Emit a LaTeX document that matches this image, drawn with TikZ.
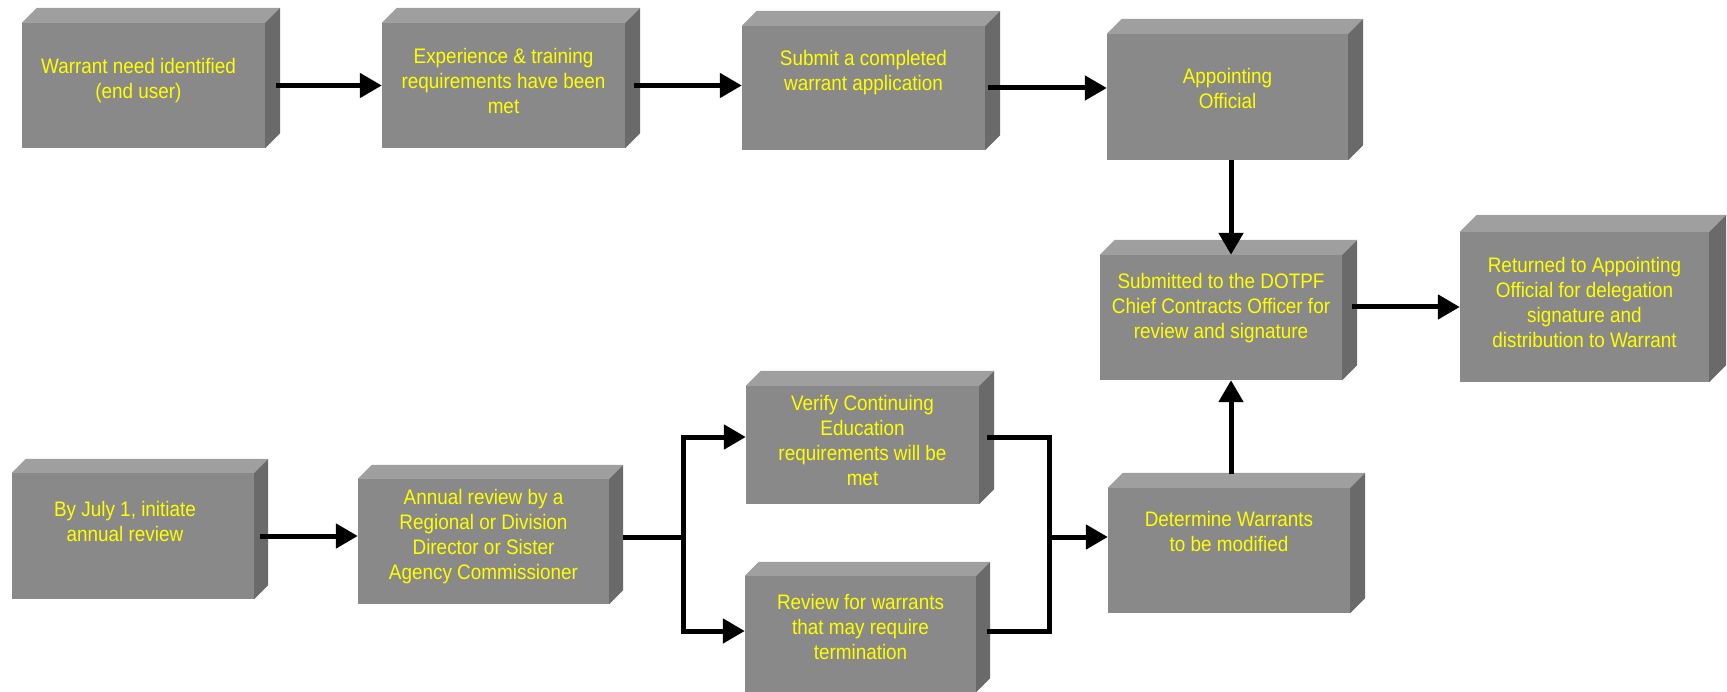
\documentclass[tikz,border=0pt]{standalone}
\usepackage{fontspec}
\setmainfont[FakeStretch=0.9]{Liberation Sans}
\usetikzlibrary{arrows.meta}

\definecolor{frontgray}{HTML}{898989}
\definecolor{topgray}{HTML}{9F9F9F}
\definecolor{sidegray}{HTML}{6A6A6A}
\definecolor{textyellow}{HTML}{FFFF00}

\begin{document}
\begin{tikzpicture}[x=1pt,y=-1pt,
		slab/.style={fill=frontgray, inner sep=0pt},
		words/.style={text=textyellow, align=center, inner sep=0pt, font=\fontsize{21}{25}\selectfont},
		flow/.style={line width=5pt, -{Triangle[length=22pt,width=24pt]}},
		bar/.style={line width=5pt}]
		
		\useasboundingbox (0,0) rectangle (1727,692);
		
		% first row
		\node[slab, minimum width=243pt, minimum height=125pt, label={[words, yshift=5pt, xshift=-5pt]center:{Warrant need identified\\(end user)}}] (need) at (143.5,85.5) {};
		\node[slab, minimum width=243pt, minimum height=125pt, label={[words, yshift=5pt]center:{Experience \& training\\requirements have been\\met}}] (exper) at (503.5,85.5) {};
		\node[slab, minimum width=243pt, minimum height=124pt, label={[words, yshift=15pt]center:{Submit a completed\\warrant application}}] (submit) at (863.5,88) {};
		\node[slab, minimum width=241pt, minimum height=126pt, label={[words, yshift=9pt]center:{Appointing\\Official}}] (appoint) at (1227.5,97) {};
		
		% right column
		\node[slab, minimum width=242pt, minimum height=125pt, label={[words, yshift=9pt]center:{Submitted to the DOTPF\\Chief Contracts Officer for\\review and signature}}] (chief) at (1221,317.5) {};
		\node[slab, minimum width=249pt, minimum height=150pt, label={[words, yshift=5pt]center:{Returned to Appointing\\Official for delegation\\signature and\\distribution to Warrant}}] (returned) at (1584.5,307) {};
		\node[slab, minimum width=242pt, minimum height=125pt, label={[words, yshift=19pt]center:{Determine Warrants\\to be modified}}] (determine) at (1229,550.5) {};
		
		% second row
		\node[slab, minimum width=242pt, minimum height=126pt, label={[words, yshift=15pt, xshift=-8pt]center:{By July 1, initiate\\annual review}}] (july) at (133,536) {};
		\node[slab, minimum width=251pt, minimum height=125pt, label={[words, yshift=5pt]center:{Annual review by a\\Regional or Division\\Director or Sister\\Agency Commissioner}}] (annual) at (483.5,541.5) {};
		\node[slab, minimum width=233pt, minimum height=118pt, label={[words, yshift=5pt]center:{Verify Continuing\\Education\\requirements will be\\met}}] (verify) at (862.5,445) {};
		\node[slab, minimum width=231pt, minimum height=116pt, label={[words, yshift=7pt]center:{Review for warrants\\that may require\\termination}}] (term) at (860.5,634) {};
		
		% top and side faces
		\foreach \n/\d in {need/15, exper/15, submit/15, appoint/15, chief/15, returned/17, july/14, annual/14, verify/15, term/14, determine/15}
		{
			\fill[topgray] (\n.north west) -- ++(\d,-\d) -- ([xshift=\d pt, yshift=\d pt]\n.north east) -- (\n.north east) -- cycle;
			\fill[sidegray] (\n.north east) -- ++(\d,-\d) -- ([xshift=\d pt, yshift=\d pt]\n.south east) -- (\n.south east) -- cycle;
		}
		
		% connectors
		\draw[flow] ([xshift=11pt]need.east) -- (exper.west);
		\draw[flow] ([xshift=9pt]exper.east) -- (exper.east -| submit.west);
		\draw[flow] ([xshift=3pt]submit.east) -- (submit.east -| appoint.west);
		\draw[flow] ([xshift=3.5pt]appoint.south) -- ([xshift=3.5pt]appoint.south |- chief.north);
		\draw[flow] ([xshift=10pt]chief.east |- returned.west) -- (returned.west);
		\draw[flow] ([xshift=2pt, yshift=14pt]determine.north) -- ([xshift=2pt]determine.north |- chief.south);
		\draw[flow] ([xshift=6pt]july.east) -- (july.east -| annual.west);
		
		\coordinate (split) at (683,537);
		\coordinate (merge) at (1049,537);
		
		\draw[bar] ([xshift=14pt]annual.east |- split) -- (split);
		\draw[flow] (split) |- ([yshift=8pt]verify.west);
		\draw[flow] (split) |- ([yshift=3pt]term.west);
		\draw[bar] ([xshift=8pt, yshift=8pt]verify.east) -| (merge);
		\draw[bar] ([xshift=11pt, yshift=3pt]term.east) -| (merge);
		\draw[flow] (merge) -- (merge -| determine.west);
		
	\end{tikzpicture}
\end{document}
